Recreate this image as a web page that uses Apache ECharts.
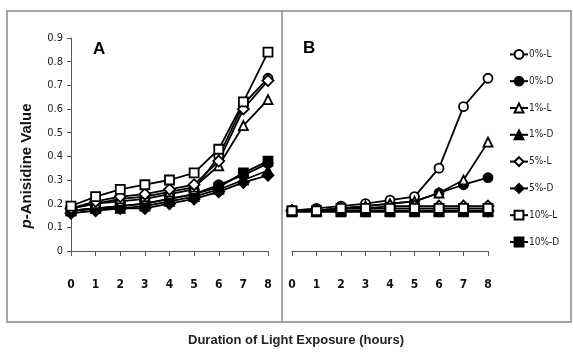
<!DOCTYPE html>
<html><head><meta charset="utf-8">
<script src="https://cdn.jsdelivr.net/npm/echarts@6/dist/echarts.min.js"></script>
<style>html,body{margin:0;padding:0;background:#fff}#c{width:573px;height:355px}</style>
</head><body><div id="c"></div>
<script>
var hours = [0,1,2,3,4,5,6,7,8];
var seriesNames = ['0%-L','0%-D','1%-L','1%-D','5%-L','5%-D','10%-L','10%-D'];
var yTicks = [0,0.1,0.2,0.3,0.4,0.5,0.6,0.7,0.8,0.9];
// Panel A
var A_0L  = [0.18,0.20,0.21,0.22,0.24,0.26,0.40,0.62,0.73];
var A_0D  = [0.17,0.18,0.19,0.20,0.22,0.24,0.28,0.32,0.37];
var A_1L  = [0.18,0.20,0.22,0.23,0.25,0.27,0.36,0.53,0.64];
var A_1D  = [0.17,0.18,0.18,0.19,0.21,0.23,0.26,0.30,0.34];
var A_5L  = [0.18,0.21,0.23,0.24,0.26,0.28,0.38,0.60,0.72];
var A_5D  = [0.16,0.17,0.18,0.18,0.20,0.22,0.25,0.29,0.32];
var A_10L = [0.19,0.23,0.26,0.28,0.30,0.33,0.43,0.63,0.84];
var A_10D = [0.17,0.18,0.19,0.20,0.22,0.24,0.27,0.33,0.38];
// Panel B
var B_0L  = [0.17,0.18,0.19,0.20,0.215,0.23,0.35,0.61,0.73];
var B_0D  = [0.17,0.17,0.18,0.19,0.20,0.21,0.245,0.28,0.31];
var B_1L  = [0.17,0.17,0.18,0.19,0.20,0.21,0.245,0.30,0.46];
var B_1D  = [0.17,0.17,0.17,0.17,0.17,0.17,0.17,0.17,0.17];
var B_5L  = [0.17,0.17,0.18,0.18,0.19,0.19,0.19,0.19,0.19];
var B_5D  = [0.17,0.17,0.17,0.17,0.17,0.17,0.17,0.17,0.17];
var B_10L = [0.17,0.17,0.18,0.18,0.18,0.18,0.18,0.18,0.18];
var B_10D = [0.165,0.165,0.165,0.165,0.165,0.165,0.165,0.165,0.165];

var dataA = [A_0L,A_0D,A_1L,A_1D,A_5L,A_5D,A_10L,A_10D];
var dataB = [B_0L,B_0D,B_1L,B_1D,B_5L,B_5D,B_10L,B_10D];
var symbols = ['circle','circle','triangle','triangle','diamond','diamond','rect','rect'];
var hollow = [true,false,true,false,true,false,true,false];

var FONT = '"Liberation Sans Narrow","Arial Narrow","DejaVu Sans Condensed",sans-serif';

function mk(name, i, data, g) {
  return {
    name: name, type: 'line', xAxisIndex: g, yAxisIndex: g,
    data: data.map(function(v, k){ return [hours[k], v]; }),
    symbol: symbols[i], symbolSize: symbols[i]==='diamond'?11:9,
    showSymbol: true,
    lineStyle: {color:'#000', width:1.8},
    itemStyle: {color: hollow[i] ? '#fff' : '#000', borderColor:'#000', borderWidth:1.8},
    animation: false, z: hollow[i]?3:2
  };
}
var series = [];
seriesNames.forEach(function(n,i){ series.push(mk(n,i,dataA[i],0)); });
seriesNames.forEach(function(n,i){ series.push(mk(n,i,dataB[i],1)); });

function xAx(g){
  return {type:'value', gridIndex:g, min:0, max:8, interval:1,
    axisLine:{show:true, lineStyle:{color:'#555', width:1}},
    axisTick:{show:true, length:5, lineStyle:{color:'#555'}},
    axisLabel:{color:'#111', fontFamily:FONT, fontWeight:'bold', fontSize:12, margin:28},
    splitLine:{show:false}};
}
function yAx(g, show){
  return {type:'value', gridIndex:g, min:0, max:0.9, interval:0.1,
    axisLine:{show:show, lineStyle:{color:'#555', width:1}},
    axisTick:{show:show, length:4, lineStyle:{color:'#555'}},
    axisLabel:{show:show, color:'#222', fontFamily:FONT, fontSize:11, margin:8,
      formatter:function(v){ return v===0 ? '0' : v.toFixed(1); }},
    splitLine:{show:false}};
}

var chart = echarts.init(document.getElementById('c'));
chart.setOption({
  backgroundColor:'#fff',
  animation:false,
  grid:[
    {left:71, top:38, width:197, height:213},
    {left:292, top:38, width:196, height:213}
  ],
  xAxis:[xAx(0), xAx(1)],
  yAxis:[yAx(0,true), yAx(1,false)],
  legend:{
    data: seriesNames, orient:'vertical', left:504, top:44,
    itemWidth:18, itemHeight:11, itemGap:16,
    textStyle:{fontFamily:FONT, fontSize:10, color:'#222', padding:[0,0,0,-4]}
  },
  graphic:[
    {type:'rect', shape:{x:7, y:11, width:564, height:311}, style:{fill:'none', stroke:'#888', lineWidth:1.5}, silent:true},
    {type:'line', shape:{x1:282, y1:11, x2:282, y2:322}, style:{stroke:'#888', lineWidth:1.5}, silent:true},
    {type:'text', left:93, top:41, style:{text:'A', font:'bold 17px "Liberation Sans Narrow", sans-serif', fill:'#000'}},
    {type:'text', left:303, top:40, style:{text:'B', font:'bold 17px "Liberation Sans Narrow", sans-serif', fill:'#000'}},
    {type:'text', x:27, y:166, rotation:Math.PI/2, style:{
      rich:{i:{fontStyle:'italic', fontWeight:'bold', fontSize:15, fontFamily:'"Liberation Sans", sans-serif'},
            n:{fontWeight:'bold', fontSize:15, fontFamily:'"Liberation Sans", sans-serif'}},
      text:'{i|p}{n|-Anisidine Value}', fill:'#111', align:'center', verticalAlign:'middle'}},
    {type:'text', x:296, y:340, style:{text:'Duration of Light Exposure (hours)', font:'bold 13px "Liberation Sans Narrow", sans-serif', fill:'#222', align:'center', verticalAlign:'middle'}}
  ],
  series: series
});
</script></body></html>
